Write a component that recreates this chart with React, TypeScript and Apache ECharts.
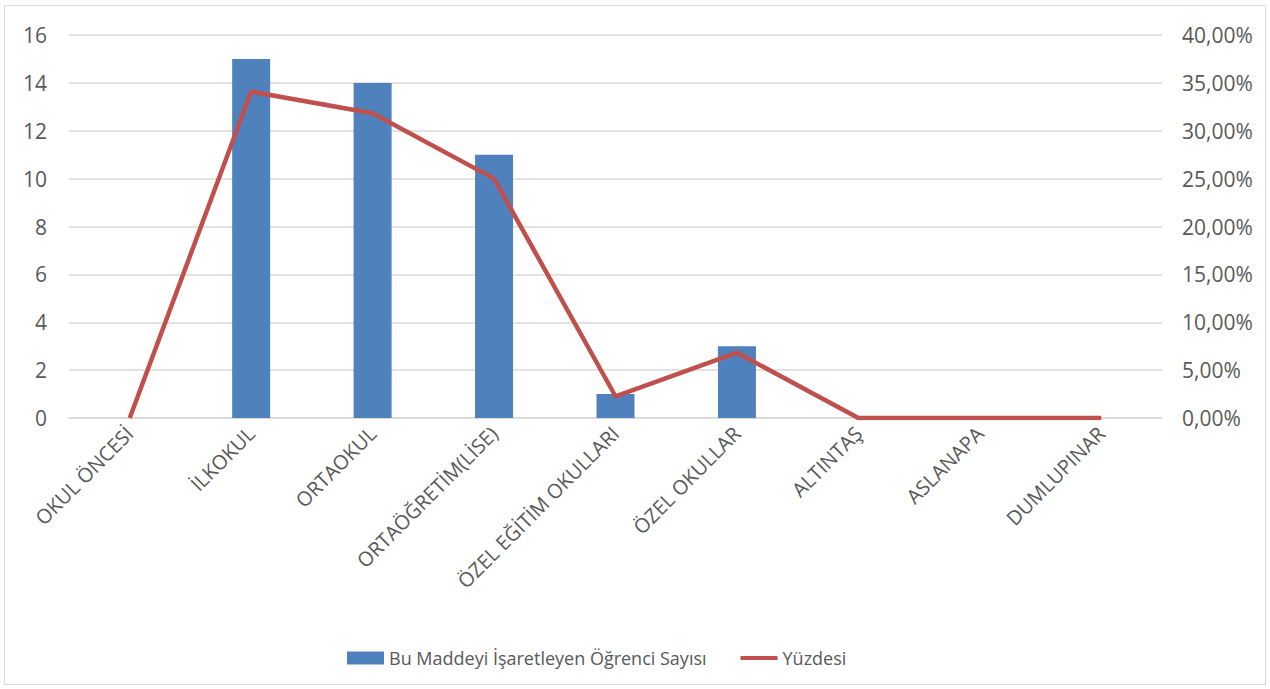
import React, { useEffect, useRef } from "react";
import * as echarts from "echarts";

const categories = [
  "OKUL ÖNCESİ",
  "İLKOKUL",
  "ORTAOKUL",
  "ORTAÖĞRETİM(LİSE)",
  "ÖZEL EĞİTİM OKULLARI",
  "ÖZEL OKULLAR",
  "ALTINTAŞ",
  "ASLANAPA",
  "DUMLUPINAR",
];
const counts = [0, 15, 14, 11, 1, 3, 0, 0, 0];
const percents = [0, 0.3409, 0.3182, 0.25, 0.0227, 0.0682, 0, 0, 0];
const barName = "Bu Maddeyi İşaretleyen Öğrenci Sayısı";
const lineName = "Yüzdesi";

const FONT = "'Open Sans', 'Noto Sans', sans-serif";

export default function App() {
  const ref = useRef<HTMLDivElement>(null);
  useEffect(() => {
    if (!ref.current) return;
    const chart = echarts.init(ref.current, null, { renderer: "svg" });
    chart.setOption({
      animation: false,
      backgroundColor: "#ffffff",
      graphic: [
        {
          type: "rect",
          shape: { x: 4.5, y: 5.5, width: 1261, height: 679 },
          style: { fill: "none", stroke: "#d9d9d9", lineWidth: 1 },
          silent: true,
        },
      ],
      grid: { left: 69, right: 108, top: 35, bottom: 271, containLabel: false },
      legend: {
        top: 644,
        left: 342,
        itemGap: 34,
        itemWidth: 37,
        itemHeight: 13,
        textStyle: { fontFamily: FONT, fontSize: 18, color: "#595959" },
        data: [
          { name: barName, icon: "rect" },
          { name: lineName, icon: "path://M0,0 L45,0 L45,5 L0,5 Z", itemStyle: { color: "#c0504d" } },
        ],
      },
      xAxis: {
        type: "category",
        data: categories,
        boundaryGap: true,
        axisLine: { lineStyle: { color: "#d9d9d9", width: 1.5 } },
        axisTick: { show: false },
        axisLabel: {
          rotate: 45,
          interval: 0,
          fontFamily: FONT,
          fontSize: 20,
          color: "#595959",
          margin: 12,
        },
      },
      yAxis: [
        {
          type: "value",
          min: 0,
          max: 16,
          interval: 2,
          axisLine: { show: false },
          axisTick: { show: false },
          splitLine: { lineStyle: { color: "#d9d9d9", width: 1.5 } },
          axisLabel: { fontFamily: FONT, fontSize: 21, color: "#595959", margin: 22 },
        },
        {
          type: "value",
          min: 0,
          max: 0.4,
          interval: 0.05,
          axisLine: { show: false },
          axisTick: { show: false },
          splitLine: { show: false },
          axisLabel: {
            fontFamily: FONT,
            fontSize: 21,
            color: "#595959",
            margin: 20,
            formatter: (v: number) => (v * 100).toFixed(2).replace(".", ",") + "%",
          },
        },
      ],
      series: [
        {
          name: barName,
          type: "bar",
          data: counts,
          barWidth: 38,
          itemStyle: { color: "#4f81bd" },
          yAxisIndex: 0,
        },
        {
          name: lineName,
          type: "line",
          data: percents,
          yAxisIndex: 1,
          symbol: "none",
          lineStyle: { color: "#c0504d", width: 4.5 },
          itemStyle: { color: "#c0504d" },
        },
      ],
    });
    return () => chart.dispose();
  }, []);
  return (
    <div
      ref={ref}
      style={{ position: "absolute", left: 0, top: 0, width: 1270, height: 689 }}
    />
  );
}
